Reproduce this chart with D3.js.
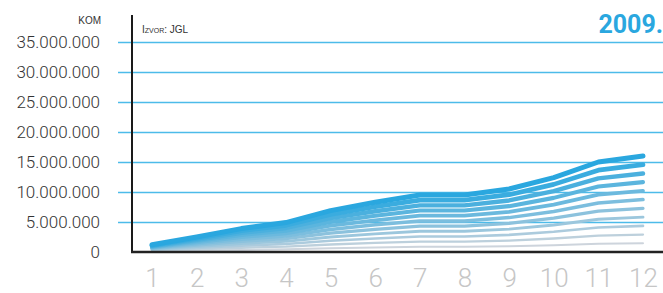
<!DOCTYPE html>
<html>
<head>
<meta charset="utf-8">
<script src="https://cdn.jsdelivr.net/npm/d3@7"></script>
<style>
  body { margin: 0; background: #fff; }
  svg { display: block; }
</style>
</head>
<body>
<svg id="chart"></svg>
<script>
// months on the x axis
const months = ['1', '2', '3', '4', '5', '6', '7', '8', '9', '10', '11', '12']
const yTicks = [0, 5000000, 10000000, 15000000, 20000000, 25000000, 30000000, 35000000]
const UNIT = 1e6 // values below are in millions (kom)

// eleven layered lines, lowest first
const line1  = [0.11, 0.23, 0.35, 0.45, 0.63, 0.75, 0.86, 0.86, 0.95, 1.13, 1.36, 1.45]
const line2  = [0.22, 0.45, 0.71, 0.89, 1.25, 1.51, 1.73, 1.73, 1.91, 2.25, 2.73, 2.91]
const line3  = [0.33, 0.68, 1.06, 1.34, 1.88, 2.26, 2.59, 2.59, 2.86, 3.38, 4.09, 4.36]
const line4  = [0.44, 0.91, 1.42, 1.78, 2.51, 3.02, 3.45, 3.45, 3.82, 4.51, 5.45, 5.82]
const line5  = [0.55, 1.14, 1.77, 2.23, 3.14, 3.77, 4.32, 4.32, 4.77, 5.64, 6.82, 7.27]
const line6  = [0.65, 1.36, 2.13, 2.67, 3.76, 4.53, 5.18, 5.18, 5.73, 6.76, 8.18, 8.73]
const line7  = [0.76, 1.59, 2.48, 3.12, 4.39, 5.28, 6.05, 6.05, 6.68, 7.89, 9.55, 10.18]
const line8  = [0.87, 1.82, 2.84, 3.56, 5.02, 6.04, 6.91, 6.91, 7.64, 9.02, 10.91, 11.64]
const line9  = [0.98, 2.05, 3.19, 4.01, 5.65, 6.79, 7.77, 7.77, 8.59, 10.15, 12.27, 13.09]
const line10 = [1.09, 2.27, 3.55, 4.45, 6.27, 7.55, 8.64, 8.64, 9.55, 11.27, 13.64, 14.55]
const line11 = [1.2, 2.5, 3.9, 4.9, 6.9, 8.3, 9.5, 9.5, 10.5, 12.4, 15.0, 16.0]
const series = [line1, line2, line3, line4, line5, line6, line7, line8, line9, line10, line11]

const width = 663, height = 293
const axisX = 132, baseY = 252

let svg = d3.select('#chart')
    .attr('width', width)
    .attr('height', height)

let x = d3.scalePoint()
    .domain(months)
    .range([152, 643])

let y = d3.scaleLinear()
    .domain([0, 35000000])
    .range([baseY, 42])

const loc = d3.formatLocale({ decimal: ',', thousands: '.', grouping: [3], currency: ['', ' kn'] })
const fmt = loc.format(',')

// y axis with grid lines
let yAxis = svg.append('g')
    .attr('transform', 'translate(' + axisX + ',0)')
    .call(d3.axisLeft(y).tickValues(yTicks).tickFormat(fmt).tickSize(-(width - axisX)).tickSizeOuter(0))
yAxis.select('.domain').remove()
yAxis.selectAll('.tick line')
    .attr('x1', -14)
    .attr('stroke', '#4cbbe9')
    .attr('stroke-width', 1.3)
    .filter(d => d === 0).remove()
yAxis.selectAll('.tick text')
    .attr('x', -32)
    .attr('dy', '0.34em')
    .style('font-family', 'Roboto, "Liberation Sans", sans-serif')
    .style('font-weight', 300)
    .style('font-size', '17px')
    .style('fill', '#333')

// x axis labels
let xAxis = svg.append('g')
    .attr('transform', 'translate(0,' + baseY + ')')
    .call(d3.axisBottom(x).tickSize(0))
xAxis.select('.domain').remove()
xAxis.selectAll('.tick text')
    .attr('y', 35)
    .attr('dy', 0)
    .style('font-family', 'Roboto, "Open Sans", sans-serif')
    .style('font-weight', 300)
    .style('font-size', '26px')
    .style('fill', '#c6c6c6')

// lines, lightest/thinnest at the bottom
let colorFn = d3.interpolateRgb('#cdd4dc', '#2aa7df')
let widthFn = d3.scaleLinear().domain([0, series.length - 1]).range([2, 5])

let line = d3.line()
    .x((d, i) => x(months[i]))
    .y(d => y(d * UNIT))

svg.append('g').selectAll('path')
    .data(series)
    .enter().append('path')
    .attr('d', line)
    .attr('fill', 'none')
    .attr('stroke', (d, i) => colorFn(i / (series.length - 1)))
    .attr('stroke-width', (d, i) => widthFn(i))
    .attr('stroke-linecap', 'round')
    .attr('stroke-linejoin', 'round')

// black axis lines
svg.append('line')
    .attr('x1', axisX).attr('x2', axisX)
    .attr('y1', 15).attr('y2', baseY + 1)
    .attr('stroke', '#1a1a1a')
    .attr('stroke-width', 2)
svg.append('line')
    .attr('x1', axisX - 1).attr('x2', width)
    .attr('y1', baseY).attr('y2', baseY)
    .attr('stroke', '#222')
    .attr('stroke-width', 2.5)

// texts
svg.append('text')
    .attr('x', 101).attr('y', 24)
    .attr('text-anchor', 'end')
    .style('font-family', '"Liberation Sans", Arial, sans-serif')
    .style('font-size', '10px')
    .style('fill', '#333')
    .text('KOM')

svg.append('text')
    .attr('x', 142).attr('y', 33)
    .style('font-family', '"Liberation Sans", Arial, sans-serif')
    .style('font-size', '10px')
    .style('font-variant', 'small-caps')
    .style('fill', '#333')
    .text('Izvor: JGL')

svg.append('text')
    .attr('x', 663).attr('y', 33)
    .attr('text-anchor', 'end')
    .style('font-family', 'Roboto, "Liberation Sans", sans-serif')
    .style('font-weight', 700)
    .style('font-size', '25px')
    .style('fill', '#2aa7df')
    .text('2009.')
</script>
</body>
</html>
